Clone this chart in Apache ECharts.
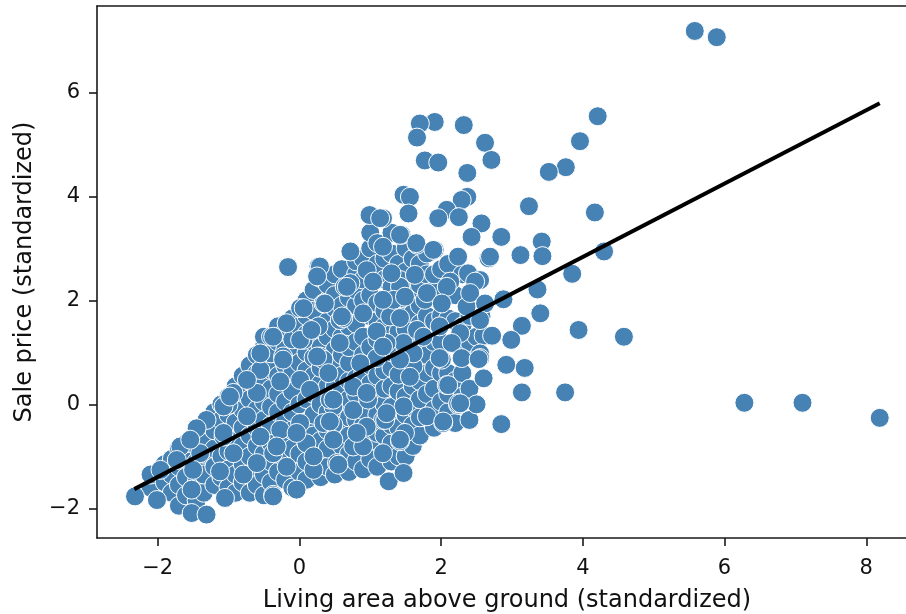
<!DOCTYPE html>
<html>
<head>
<meta charset="utf-8">
<script src="https://cdn.jsdelivr.net/npm/echarts@6/dist/echarts.min.js"></script>
<style>
html,body{margin:0;padding:0;background:#fff;}
#chart{width:906px;height:614px;}
</style>
</head>
<body>
<div id="chart"></div>
<script>
// ---- data ----
const xTicks = [-2, 0, 2, 4, 6, 8];
const yTicks = [-2, 0, 2, 4, 6];

// isolated points far from the main cloud
const outliers = [
  [5.58,7.18],[5.89,7.06],[6.28,0.03],[7.10,0.03],[8.19,-0.26],[4.21,5.54],[3.96,5.06],[3.76,4.56],
  [3.52,4.47],[3.24,3.81],[4.17,3.69],[4.30,2.94],[3.42,3.13],[3.43,2.85],[2.85,3.22],[3.12,2.87],
  [3.85,2.51],[3.36,2.21],[2.88,2.02],[3.40,1.75],[3.14,1.51],[3.94,1.43],[4.58,1.30],[2.99,1.24],
  [2.72,1.32],[2.92,0.76],[3.18,0.70],[3.14,0.23],[3.75,0.23],[2.85,-0.38],[2.53,0.87],[2.27,0.02]
];

// upper part of the cloud (x around 0..2.7)
const upperCloud = [
  [1.91,5.43],[1.70,5.40],[1.66,5.13],[2.32,5.37],[2.62,5.03],[2.71,4.70],[1.77,4.69],[1.96,4.65],
  [2.37,4.45],[1.47,4.03],[1.56,3.99],[2.37,3.99],[2.29,3.93],[1.54,3.67],[2.08,3.74],[1.96,3.58],
  [2.25,3.60],[2.57,3.48],[2.43,3.22],[1.44,3.26],[1.66,3.07],[1.91,2.97],[2.24,2.84],[2.67,2.81],
  [1.18,3.58],[1.18,3.03],[0.99,3.64],[1.14,3.58],[1.42,3.26],[1.65,3.10],[0.72,2.94],[0.29,2.65],
  [0.25,2.46],[0.95,2.58],[0.67,2.26],[1.04,2.36],[1.30,2.52],[1.63,2.49],[1.89,2.97],[2.69,2.84],
  [2.48,2.36],[2.08,2.26],[1.80,2.14],[1.18,2.01],[1.49,2.07],[0.36,1.94],[0.06,1.85],[0.60,1.69],
  [0.90,1.75],[1.42,1.66],[2.01,1.94],[2.41,2.14],[2.62,1.94],[2.55,1.62],[0.17,1.43],[0.57,1.18],
  [1.09,1.40],[1.18,1.11],[1.75,1.30],[2.15,1.18],[1.98,0.89],[2.29,0.89],[2.55,0.89],[0.25,0.92],
  [0.41,0.60],[0.86,0.79],[1.42,0.86],[1.56,0.53],[2.10,0.37],[2.24,0.02],[0.95,0.22],[0.48,0.09],
  [0.15,0.28],[1.23,-0.17],[1.80,-0.23],[2.03,-0.33],[0.43,-0.33],[0.81,-0.55],[1.42,-0.68]
];

// left and lower part of the cloud
const lowerCloud = [
  [-0.16,2.64],[0.27,2.65],[0.64,2.26],[0.01,1.85],[0.34,1.94],[0.57,1.62],[0.27,1.50],[-0.37,1.30],
  [0.06,1.24],[-0.23,0.92],[-0.55,0.66],[-0.27,0.44],[0.29,0.92],[0.01,0.47],[0.76,0.34],[-0.93,0.22],
  [-0.60,0.22],[-1.00,-0.01],[-0.74,-0.23],[-1.31,-0.30],[-1.45,-0.46],[-1.07,-0.62],[-0.55,-0.62],
  [-0.27,-0.49],[0.01,-0.36],[0.48,-0.39],[0.10,-0.75],[-0.37,-0.94],[-0.93,-0.94],[-1.40,-0.94],
  [-1.68,-0.81],[-1.73,-1.07],[-1.96,-1.26],[-1.50,-1.26],[-1.12,-1.29],[-0.79,-1.35],[-0.18,-1.20],
  [0.20,-1.26],[0.53,-1.13],[-0.04,-1.64],[-0.37,-1.74],[-1.05,-1.80],[-1.52,-1.64],[-2.01,-1.84],
  [-2.32,-1.77],[-1.52,-2.09],[-1.31,-2.12],[-1.07,-0.04],[-0.74,0.47],[-0.55,0.98],[-0.18,1.56],
  [0.48,-0.04],[0.76,-0.11],[0.48,-0.68],[0.76,-0.81],[0.20,-1.00],[-0.60,-1.13],[1.26,-1.48],
  [1.47,-1.32],[0.55,-1.16],[-0.37,-1.77],[1.18,-0.94],[1.42,-0.71],[0.90,-0.81],[1.18,-0.30],
  [0.97,0.09],[1.47,-0.04],[1.40,0.57],[1.09,0.89],[1.28,1.69],[1.44,2.04],[0.62,1.66],[0.01,1.24],
  [-0.23,0.86],[0.34,0.86],[0.43,0.09],[0.95,-0.43],[0.34,-0.36],[-0.04,-0.55],[-0.32,-0.81],
  [-0.98,0.15],[-1.07,-0.55],[-1.54,-0.68],[1.47,1.18],[1.42,2.39],[0.72,2.33],[1.21,-0.30],
  [1.49,-0.55],[2.03,-0.36],[2.24,-0.01],[2.08,0.37],[1.61,0.73],[2.01,0.86],[2.55,0.98],[2.27,1.37],
  [1.98,1.50],[1.66,1.43],[1.23,1.18],[1.61,0.98],[1.77,2.01],[2.57,1.69],[2.36,1.88],[2.13,2.36],
  [2.38,2.52],[2.55,2.39],[1.42,2.26],[1.33,2.01]
];

// dense core, estimated column by column: [x, [y values]]
const coreColumns = [
  [-2.1, [-1.60, -1.35]],
  [-1.9, [-1.50, -1.15]],
  [-1.8, [-1.70, -1.35, -1.05]],
  [-1.7, [-1.95, -1.55, -1.20, -0.85]],
  [-1.6, [-1.75, -1.40, -1.00, -0.75]],
  [-1.45, [-1.85, -1.50, -1.10, -0.80, -0.50]],
  [-1.35, [-1.70, -1.35, -0.95, -0.65]],
  [-1.2, [-1.55, -1.20, -0.85, -0.50, -0.15]],
  [-1.1, [-1.40, -1.00, -0.30, 0.00]],
  [-1.0, [-1.60, -1.25, -0.90, -0.20, 0.15]],
  [-0.9, [-1.70, -1.35, -0.70, -0.35, 0.05, 0.35]],
  [-0.8, [-1.50, -1.15, -0.80, -0.45, -0.10, 0.22, 0.55]],
  [-0.7, [-1.70, -1.35, -1.00, -0.60, 0.10, 0.45, 0.75]],
  [-0.6, [-1.55, -0.80, -0.45, -0.10, 0.60, 0.95]],
  [-0.5, [-1.75, -1.35, -0.95, -0.30, 0.05, 0.40, 0.75, 1.10, 1.30]],
  [-0.4, [-1.50, -1.10, -0.75, -0.40, -0.05, 0.30, 0.66, 0.98, 1.30]],
  [-0.3, [-1.30, -0.90, -0.15, 0.20, 0.55, 1.20, 1.50]],
  [-0.2, [-1.45, -1.05, -0.70, -0.30, 0.05, 0.75, 1.05, 1.40]],
  [-0.1, [-1.60, -1.20, -0.85, -0.50, -0.15, 0.25, 0.60, 0.92, 1.25, 1.65]],
  [0.0, [-1.30, -0.95, 0.00, 0.80, 1.50]],
  [0.1, [-1.45, -1.10, -0.75, -0.40, 0.10, 0.65, 1.00, 1.35, 1.70, 2.00]],
  [0.2, [-0.60, -0.20, 0.20, 0.55, 0.90, 1.20, 1.80, 2.20]],
  [0.3, [-1.40, -1.05, -0.70, 0.00, 0.40, 0.70, 1.10, 2.43]],
  [0.4, [-1.20, -0.85, -0.50, -0.15, 0.35, 0.86, 1.30, 1.60, 2.00, 2.30]],
  [0.5, [-1.35, -0.68, 0.35, 0.75, 1.05, 1.45, 1.85, 2.10, 2.50]],
  [0.6, [-0.80, -0.45, -0.10, 0.25, 0.55, 0.95, 1.30, 1.90, 2.60]],
  [0.7, [-1.30, -0.95, -0.60, -0.25, 0.10, 0.45, 0.80, 1.10, 1.50, 2.05]],
  [0.8, [-1.10, -0.30, 0.20, 0.50, 1.20, 1.55, 1.90, 2.20, 2.50, 2.75]],
  [0.9, [-1.25, -0.40, -0.11, 0.60, 0.95, 1.30, 2.00, 2.40, 2.80]],
  [1.0, [-1.05, -0.70, 0.40, 0.75, 1.10, 1.70, 2.10, 3.00, 3.30]],
  [1.1, [-1.20, -0.55, -0.20, 0.15, 0.55, 1.25, 1.60, 1.95, 2.70, 3.10]],
  [1.2, [-0.60, 0.00, 0.30, 0.65, 1.50, 1.80, 2.40, 2.80]],
  [1.3, [-1.10, -0.75, -0.40, -0.05, 0.35, 0.70, 1.00, 1.35, 2.25, 2.90, 3.30]],
  [1.4, [-1.00, -0.45, 0.25, 1.00, 1.40, 1.90, 2.70]],
  [1.5, [-1.00, -0.20, 0.15, 0.85, 1.05, 1.45, 1.85, 2.55, 3.00]],
  [1.6, [-0.80, -0.40, -0.05, 0.35, 1.20, 1.75, 2.20, 2.80]],
  [1.7, [-0.60, -0.25, 0.10, 0.45, 0.80, 1.10, 1.55, 1.90, 2.30, 2.70]],
  [1.8, [0.20, 0.60, 0.95, 1.70, 2.50, 2.90]],
  [1.9, [-0.45, -0.10, 0.30, 0.70, 1.20, 1.60, 2.20, 2.50]],
  [2.0, [0.05, 0.60, 1.20, 1.70, 2.60]],
  [2.1, [-0.15, 0.20, 0.60, 1.65, 2.70]],
  [2.2, [-0.36, 0.45, 1.60, 2.10]],
  [2.3, [0.15, 0.60, 1.00, 1.50, 2.50]],
  [2.4, [-0.30, 0.30, 1.20, 1.70]],
  [2.5, [0.00, 1.30]],
  [2.6, [0.50, 1.32]]
];

// fitted regression line end points
const fitX = [-2.33, 8.19];
const fitY = [-1.63, 5.79];

// ---- build chart ----
const corePoints = [];
coreColumns.forEach(([x, ys]) => ys.forEach(y => corePoints.push([x, y])));
const allPoints = corePoints.concat(lowerCloud, upperCloud, outliers);
const fitLine = fitX.map((x, i) => [x, fitY[i]]);

const txt = '#111';
const spine = '#1a1a1a';
const font = 'DejaVu Sans';
const minus = v => String(v).replace('-', '\u2212');
const X_MIN = -2.856, X_MAX = 8.716, Y_MIN = -2.57, Y_MAX = 7.66;

const chart = echarts.init(document.getElementById('chart'));
chart.setOption({
  animation: false,
  backgroundColor: '#fff',
  grid: {left: 97, top: 6, right: -11, bottom: 76, outerBoundsMode: 'none', containLabel: false},
  xAxis: [{
    type: 'value', min: X_MIN, max: X_MAX, position: 'bottom',
    axisLine: {show: true, onZero: false, lineStyle: {color: spine, width: 1.6}},
    splitLine: {show: false},
    axisTick: {show: true, customValues: xTicks, length: 8, lineStyle: {color: spine, width: 1.6}},
    axisLabel: {customValues: xTicks, formatter: minus, fontSize: 21, color: txt, fontFamily: font, margin: 20},
    name: 'Living area above ground (standardized)',
    nameLocation: 'middle', nameGap: 51,
    nameTextStyle: {fontSize: 24, color: txt, fontFamily: font}
  }, {
    type: 'value', min: X_MIN, max: X_MAX, position: 'top',
    axisLine: {show: true, onZero: false, lineStyle: {color: spine, width: 1.6}},
    splitLine: {show: false}, axisTick: {show: false}, axisLabel: {show: false}
  }],
  yAxis: {
    type: 'value', min: Y_MIN, max: Y_MAX,
    axisLine: {show: true, onZero: false, lineStyle: {color: spine, width: 1.6}},
    splitLine: {show: false},
    axisTick: {show: true, customValues: yTicks, length: 8, lineStyle: {color: spine, width: 1.6}},
    axisLabel: {customValues: yTicks, formatter: minus, fontSize: 21, color: txt, fontFamily: font, margin: 17},
    name: 'Sale price (standardized)',
    nameLocation: 'middle', nameGap: 60,
    nameTextStyle: {fontSize: 24, color: txt, fontFamily: font}
  },
  series: [
    {
      type: 'scatter', data: allPoints, symbol: 'circle', symbolSize: 19,
      xAxisIndex: 0, yAxisIndex: 0,
      itemStyle: {color: '#4682b4', borderColor: '#ffffff', borderWidth: 1.0, opacity: 1},
      z: 2
    },
    {
      type: 'line', data: fitLine, symbol: 'none', z: 3,
      xAxisIndex: 0, yAxisIndex: 0,
      lineStyle: {color: '#000', width: 4}
    }
  ]
});
</script>
</body>
</html>
